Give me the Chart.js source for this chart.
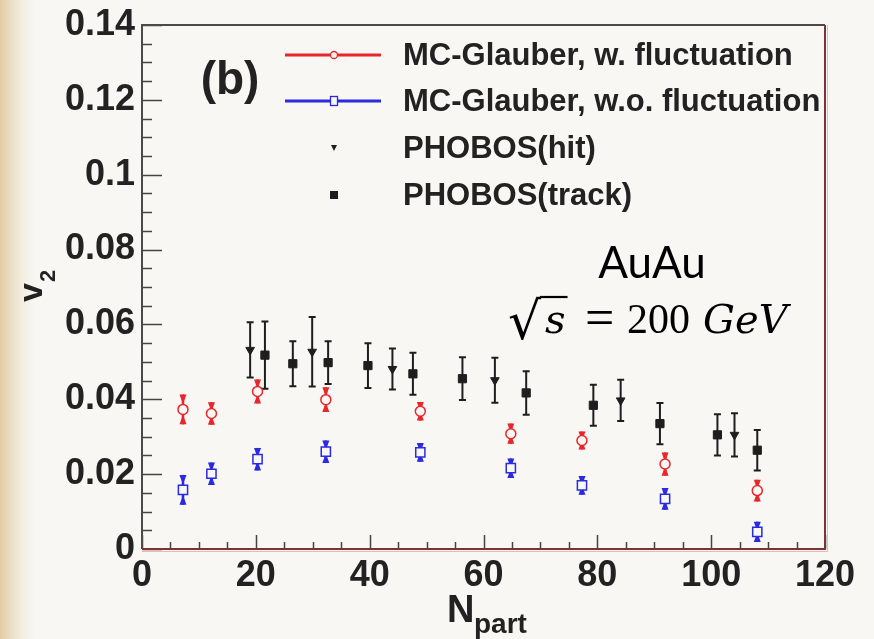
<!DOCTYPE html>
<html>
<head>
<meta charset="utf-8">
<script src="https://cdn.jsdelivr.net/npm/chart.js@4.4.1/dist/chart.umd.min.js"></script>
<style>
  html, body { margin: 0; padding: 0; }
  body {
    width: 874px; height: 639px; overflow: hidden;
    background: linear-gradient(to right, #e2cca4 0px, #eadcc0 10px, #f3ede0 22px, #f8f7f3 34px, #f8f7f3 100%);
  }
  #wrap { position: relative; width: 874px; height: 639px; }
</style>
</head>
<body>
<div id="wrap"><canvas id="v2Chart" width="874" height="639"></canvas></div>
<script>
// MC-Glauber model points (same Npart for both)
const modelNpart = [7.2, 12.2, 20.3, 32.3, 48.9, 64.8, 77.3, 91.9, 108.1];
const withFluct = [0.0373, 0.0362, 0.0421, 0.0399, 0.0368, 0.0308, 0.029, 0.0227, 0.0156];
const withFluctErr = [0.004, 0.003, 0.0032, 0.0033, 0.0025, 0.0027, 0.0024, 0.0031, 0.0029];
const noFluct = [0.0158, 0.0201, 0.024, 0.026, 0.0258, 0.0216, 0.017, 0.0134, 0.0046];
const noFluctErr = [0.004, 0.003, 0.003, 0.003, 0.0025, 0.0026, 0.0025, 0.0029, 0.0027];

// PHOBOS data
const hitNpart = [19.0, 29.9, 44.0, 62.0, 84.1, 104.1];
const hitV2 = [0.0532, 0.0527, 0.0481, 0.0451, 0.0397, 0.0305];
const hitErr = [0.0074, 0.0093, 0.0055, 0.006, 0.0055, 0.0058];
const trackNpart = [21.6, 26.5, 32.7, 39.7, 47.6, 56.3, 67.5, 79.3, 91.0, 101.1, 108.1];
const trackV2 = [0.0518, 0.0495, 0.0498, 0.049, 0.0468, 0.0455, 0.0417, 0.0384, 0.0335, 0.0305, 0.0264];
const trackErr = [0.009, 0.006, 0.0057, 0.006, 0.0056, 0.0057, 0.0058, 0.0055, 0.0055, 0.0055, 0.0054];

const xTickLabels = ["0", "20", "40", "60", "80", "100", "120"];
const yTickLabels = ["0", "0.02", "0.04", "0.06", "0.08", "0.1", "0.12", "0.14"];
const legendLabels = ["MC-Glauber, w. fluctuation", "MC-Glauber, w.o. fluctuation", "PHOBOS(hit)", "PHOBOS(track)"];

const RED = "#e8262b";
const BLUE = "#2a2ae0";
const BLACK = "#1e1e1e";
const PLOT_BG = "#f8f7f3";
const SANS = "'Liberation Sans', Arial, sans-serif";

const toPts = (xs, ys) => xs.map((x, i) => ({ x: x, y: ys[i] }));
const errSets = [withFluctErr, noFluctErr, hitErr, trackErr];

// error bars, drawn under the markers
const errorBars = {
  id: "errorBars",
  beforeDatasetsDraw(chart) {
    const { ctx, scales: { x, y } } = chart;
    chart.data.datasets.forEach((ds, di) => {
      const errs = errSets[di];
      const model = di < 2;
      ctx.save();
      ctx.strokeStyle = ds.borderColor;
      ctx.fillStyle = ds.borderColor;
      ds.data.forEach((p, i) => {
        const px = x.getPixelForValue(p.x);
        const top = y.getPixelForValue(p.y + errs[i]);
        const bot = y.getPixelForValue(p.y - errs[i]);
        ctx.lineWidth = model ? 2.6 : 2;
        ctx.beginPath();
        ctx.moveTo(px, top);
        ctx.lineTo(px, bot);
        ctx.stroke();
        if (model) {
          // tapered ends
          [[top, 1], [bot, -1]].forEach(([e, d]) => {
            ctx.beginPath();
            ctx.moveTo(px - 3.5, e);
            ctx.lineTo(px + 3.5, e);
            ctx.lineTo(px + 1.3, e + d * 6);
            ctx.lineTo(px - 1.3, e + d * 6);
            ctx.closePath();
            ctx.fill();
          });
        } else {
          ctx.lineWidth = 2;
          ctx.beginPath();
          ctx.moveTo(px - 3.5, top); ctx.lineTo(px + 3.5, top);
          ctx.moveTo(px - 3.5, bot); ctx.lineTo(px + 3.5, bot);
          ctx.stroke();
        }
      });
      ctx.restore();
    });
  }
};

// frame, inner ticks, legend, labels
const decorations = {
  id: "decorations",
  afterDraw(chart) {
    const { ctx, chartArea: a, scales: { x, y } } = chart;
    ctx.save();
    // ticks
    ctx.strokeStyle = "#444";
    ctx.lineWidth = 1.5;
    ctx.beginPath();
    for (let v = 0; v <= 0.14001; v += 0.005) {
      const py = Math.round(y.getPixelForValue(v)) + 0.5;
      const major = Math.abs(v / 0.02 - Math.round(v / 0.02)) < 1e-6;
      ctx.moveTo(a.left, py);
      ctx.lineTo(a.left + (major ? 20 : 10), py);
    }
    for (let v = 0; v <= 120; v += 5) {
      const px = Math.round(x.getPixelForValue(v)) + 0.5;
      ctx.moveTo(px, a.bottom);
      ctx.lineTo(px, a.bottom - (v % 20 === 0 ? 14 : 7));
    }
    ctx.stroke();

    // frame
    ctx.lineWidth = 2;
    ctx.strokeStyle = "#4a4a4a";
    ctx.beginPath();
    ctx.moveTo(a.left, a.bottom);
    ctx.lineTo(a.left, a.top);
    ctx.lineTo(a.right, a.top);
    ctx.stroke();
    ctx.strokeStyle = "#7a3434";
    ctx.beginPath();
    ctx.moveTo(a.right, a.top);
    ctx.lineTo(a.right, a.bottom);
    ctx.lineTo(a.left, a.bottom);
    ctx.stroke();
    ctx.strokeStyle = "rgba(220,120,120,0.5)";
    ctx.lineWidth = 1;
    ctx.beginPath();
    ctx.moveTo(a.left, a.bottom + 2.5);
    ctx.lineTo(a.right + 2.5, a.bottom + 2.5);
    ctx.lineTo(a.right + 2.5, a.top);
    ctx.stroke();

    // legend
    const rows = [55, 101, 148, 195];
    const mx = 334;
    ctx.font = "bold 31px " + SANS;
    ctx.fillStyle = "#222";
    ctx.textBaseline = "middle";
    ctx.textAlign = "left";
    legendLabels.forEach((t, i) => ctx.fillText(t, 403, rows[i] + 1));
    ctx.lineWidth = 3;
    ctx.strokeStyle = RED;
    ctx.beginPath(); ctx.moveTo(285, rows[0]); ctx.lineTo(381, rows[0]); ctx.stroke();
    ctx.lineWidth = 1.3;
    ctx.fillStyle = PLOT_BG;
    ctx.beginPath(); ctx.arc(mx, rows[0], 3.5, 0, Math.PI * 2); ctx.fill(); ctx.stroke();
    ctx.lineWidth = 3;
    ctx.strokeStyle = BLUE;
    ctx.beginPath(); ctx.moveTo(285, rows[1]); ctx.lineTo(381, rows[1]); ctx.stroke();
    ctx.lineWidth = 1.3;
    ctx.fillRect(mx - 3.5, rows[1] - 4.5, 7, 9);
    ctx.strokeRect(mx - 3.5, rows[1] - 4.5, 7, 9);
    ctx.fillStyle = BLACK;
    ctx.beginPath();
    ctx.moveTo(mx - 3, rows[2] - 3); ctx.lineTo(mx + 3, rows[2] - 3); ctx.lineTo(mx, rows[2] + 3);
    ctx.closePath(); ctx.fill();
    ctx.fillRect(mx - 4, rows[3] - 4, 8, 8);

    // panel label
    ctx.font = "bold 46px " + SANS;
    ctx.fillStyle = "#222";
    ctx.textAlign = "center";
    ctx.fillText("(b)", 230, 81);

    // AuAu annotation
    ctx.textBaseline = "alphabetic";
    ctx.fillStyle = "#000";
    ctx.font = "44px Lato, 'Liberation Sans', sans-serif";
    ctx.fillText("AuAu", 652, 278);
    ctx.textAlign = "left";
    const base = 333;
    ctx.font = "52px 'DejaVu Serif', serif";
    const rad = ctx.measureText("\u221A");
    const radTop = base + 6 - rad.actualBoundingBoxAscent;
    ctx.fillText("\u221A", 507 - rad.actualBoundingBoxLeft, base + 6);
    const radEnd = 507 - rad.actualBoundingBoxLeft + rad.actualBoundingBoxRight;
    ctx.font = "italic 40px 'DejaVu Serif', serif";
    ctx.fillText("s", radEnd + 3, base);
    const sEnd = radEnd + 3 + ctx.measureText("s").width;
    ctx.lineWidth = 2.2;
    ctx.strokeStyle = "#000";
    ctx.beginPath(); ctx.moveTo(radEnd - 2, radTop + 1); ctx.lineTo(sEnd + 2, radTop + 1); ctx.stroke();
    ctx.font = "52px 'Liberation Serif', serif";
    ctx.fillText("=", 585, base + 2);
    ctx.font = "42px 'Liberation Serif', serif";
    ctx.fillText("200", 627, base);
    ctx.font = "italic 40px 'DejaVu Serif', serif";
    ctx.fillText("GeV", 703, base);

    // axis titles
    ctx.fillStyle = "#222";
    ctx.font = "bold 38px " + SANS;
    ctx.fillText("N", 447, 622);
    ctx.font = "bold 28px " + SANS;
    ctx.fillText("part", 474, 633);
    ctx.save();
    ctx.translate(42, 302);
    ctx.rotate(-Math.PI / 2);
    ctx.font = "bold 34px " + SANS;
    ctx.fillText("v", 0, 0);
    const vw = ctx.measureText("v").width;
    ctx.font = "bold 22px " + SANS;
    ctx.fillText("2", vw + 1, 13);
    ctx.restore();
    ctx.restore();
  }
};

const ctx = document.getElementById("v2Chart");
new Chart(ctx, {
  type: "scatter",
  data: {
    datasets: [
      {
        label: legendLabels[0],
        data: toPts(modelNpart, withFluct),
        borderColor: RED,
        backgroundColor: PLOT_BG,
        pointStyle: "circle",
        pointRadius: 5,
        pointBorderWidth: 1.5,
      },
      {
        label: legendLabels[1],
        data: toPts(modelNpart, noFluct),
        borderColor: BLUE,
        backgroundColor: PLOT_BG,
        pointStyle: "rect",
        pointRadius: 6.5,
        pointBorderWidth: 1.5,
      },
      {
        label: legendLabels[2],
        data: toPts(hitNpart, hitV2),
        borderColor: BLACK,
        backgroundColor: BLACK,
        pointStyle: "triangle",
        rotation: 180,
        pointRadius: 5,
        pointBorderWidth: 1,
      },
      {
        label: legendLabels[3],
        data: toPts(trackNpart, trackV2),
        borderColor: BLACK,
        backgroundColor: BLACK,
        pointStyle: "rect",
        pointRadius: 5.8,
        pointBorderWidth: 1,
      },
    ],
  },
  options: {
    responsive: false,
    animation: false,
    layout: { padding: { top: 19, right: 49, left: 0, bottom: 0 } },
    plugins: { legend: { display: false }, tooltip: { enabled: false } },
    scales: {
      x: {
        type: "linear",
        min: 0,
        max: 120,
        grid: { display: false, drawTicks: false },
        border: { display: false },
        ticks: {
          stepSize: 20,
          autoSkip: false,
          maxRotation: 0,
          padding: 9,
          color: "#222",
          font: { family: SANS, size: 36, weight: "bold", lineHeight: 1 },
          callback: (v, i) => xTickLabels[i],
        },
        afterFit: (s) => { s.height = 90; },
      },
      y: {
        type: "linear",
        min: 0,
        max: 0.14,
        grid: { display: false, drawTicks: false },
        border: { display: false },
        ticks: {
          stepSize: 0.02,
          autoSkip: false,
          padding: 7,
          color: "#222",
          font: { family: SANS, size: 36, weight: "bold", lineHeight: 1 },
          callback: (v, i) => yTickLabels[i],
        },
        afterFit: (s) => { s.width = 142; },
      },
    },
  },
  plugins: [errorBars, decorations],
});
</script>
</body>
</html>
